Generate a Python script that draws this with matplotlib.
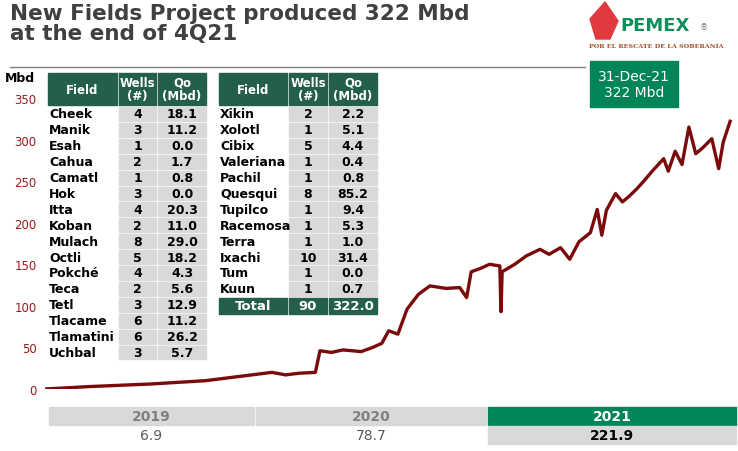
import matplotlib.pyplot as plt
from matplotlib.patches import Rectangle, Polygon

# production series (decimal year, Mbd)
years = [2019.00, 2019.20, 2019.46, 2019.70, 2019.99, 2020.05, 2020.11, 2020.18, 2020.20,
         2020.25, 2020.30, 2020.38, 2020.43, 2020.47, 2020.50, 2020.54, 2020.58, 2020.63,
         2020.68, 2020.75, 2020.81, 2020.84, 2020.86, 2020.90, 2020.94, 2020.985, 2020.99,
         2020.995, 2021.05, 2021.10, 2021.16, 2021.20, 2021.25, 2021.29, 2021.33, 2021.38,
         2021.41, 2021.43, 2021.45, 2021.49, 2021.52, 2021.55, 2021.58, 2021.61, 2021.65,
         2021.70, 2021.72, 2021.75, 2021.78, 2021.81, 2021.84, 2021.87, 2021.91, 2021.94,
         2021.96, 2021.99]
mbd = [0, 3, 6, 10, 20, 17, 19, 20, 46, 44, 47, 45, 50, 55, 70, 66, 96, 114,
       124, 121, 122, 110, 141, 145, 150, 148, 93, 141, 150, 160, 168, 162, 170, 156, 177, 188,
       216, 185, 215, 235, 225, 232, 240, 249, 262, 277, 262, 286, 270, 315, 283, 290, 301, 265,
       297, 322]
yticks = [0, 50, 100, 150, 200, 250, 300, 350]

left_fields = ["Cheek", "Manik", "Esah", "Cahua", "Camatl", "Hok", "Itta", "Koban",
               "Mulach", "Octli", "Pokché", "Teca", "Tetl", "Tlacame", "Tlamatini", "Uchbal"]
left_wells = [4, 3, 1, 2, 1, 3, 4, 2, 8, 5, 4, 2, 3, 6, 6, 3]
left_qo = ["18.1", "11.2", "0.0", "1.7", "0.8", "0.0", "20.3", "11.0", "29.0", "18.2",
           "4.3", "5.6", "12.9", "11.2", "26.2", "5.7"]
right_fields = ["Xikin", "Xolotl", "Cibix", "Valeriana", "Pachil", "Quesqui", "Tupilco",
                "Racemosa", "Terra", "Ixachi", "Tum", "Kuun"]
right_wells = [2, 1, 5, 1, 1, 8, 1, 1, 1, 10, 1, 1]
right_qo = ["2.2", "5.1", "4.4", "0.4", "0.8", "85.2", "9.4", "5.3", "1.0", "31.4", "0.0", "0.7"]
total_wells, total_qo = 90, "322.0"

year_labels = ["2019", "2020", "2021"]
year_avg = ["6.9", "78.7", "221.9"]

GREEN_DK = "#245E4C"
GREEN = "#00845A"
GRAY = "#D9D9D9"
RED = "#7B0A0A"

fig = plt.figure(figsize=(7.38, 4.52), dpi=100)

# line chart
ax = fig.add_axes([45 / 738, 62 / 452, 692 / 738, 291 / 452])
ax.plot(years, mbd, color=RED, lw=2.4, solid_joinstyle="round")
ax.set_xlim(2019, 2022.02)
ax.set_ylim(0, 350)
ax.set_yticks(yticks)
ax.set_xticks([])
for s in ax.spines.values():
    s.set_visible(False)
ax.tick_params(axis="y", length=0, labelsize=8.5, labelcolor="#9B1B1B", pad=6)

# overlay in pixel coords
ov = fig.add_axes([0, 0, 1, 1], zorder=5)
ov.set_xlim(0, 738)
ov.set_ylim(452, 0)
ov.axis("off")
ov.patch.set_alpha(0)

ov.text(10, 4, "New Fields Project produced 322 Mbd\nat the end of 4Q21", fontsize=15.5,
        fontweight="bold", color="#404040", va="top", linespacing=1.0)
ov.plot([10, 585], [68, 68], color="#7F7F7F", lw=1)
ov.text(5, 78, "Mbd", fontsize=9, fontweight="bold", va="center")

# logo
ov.add_patch(Polygon([[590, 20], [605, 3], [618, 22], [610, 40], [596, 40]],
                     closed=True, color="#E03A3E"))
ov.text(620, 26, "PEMEX", fontsize=13, fontweight="bold", color="#0E8E5A", va="center")
ov.text(700, 28, "®", fontsize=6, color="#777777", va="center")
ov.text(656, 46, "POR EL RESCATE DE LA SOBERANÍA", fontsize=4.6, color="#A0522D",
        ha="center", va="center", family="DejaVu Serif", fontweight="bold")
ov.add_patch(Rectangle((590, 62), 88, 46, color=GREEN))
ov.text(634, 85, "31-Dec-21\n322 Mbd", color="white", fontsize=10, ha="center", va="center")


def table(x0, widths, fields, wells, qo, total=None):
    top, hh, rh = 74, 32, 15.9
    heads = ["Field", "Wells\n(#)", "Qo\n(Mbd)"]
    x = x0
    for w, h in zip(widths, heads):
        ov.add_patch(Rectangle((x + 1, top), w - 2, hh, color=GREEN_DK))
        ov.text(x + w / 2, top + hh / 2, h, color="white", fontsize=8.5, fontweight="bold",
                ha="center", va="center", linespacing=1.0)
        x += w
    for i, (f, wl, q) in enumerate(zip(fields, wells, qo)):
        y = top + hh + 1 + i * rh
        ov.text(x0 + 2, y + rh / 2, f, fontsize=9, fontweight="bold", va="center")
        xc = x0 + widths[0]
        for w, v in zip(widths[1:], [str(wl), q]):
            ov.add_patch(Rectangle((xc + 1, y + 1), w - 2, rh - 2, color=GRAY))
            ov.text(xc + w / 2, y + rh / 2, v, fontsize=9, fontweight="bold",
                    ha="center", va="center")
            xc += w
    if total:
        y = top + hh + 1 + len(fields) * rh
        xc = x0
        for w, v in zip(widths, total):
            ov.add_patch(Rectangle((xc + 1, y + 1), w - 2, rh, color=GREEN_DK))
            ov.text(xc + w / 2, y + rh / 2 + 1, v, fontsize=9.5, fontweight="bold",
                    color="white", ha="center", va="center")
            xc += w


table(47, [71, 39, 50], left_fields, left_wells, left_qo)
table(218, [70, 40, 50], right_fields, right_wells, right_qo,
      total=["Total", str(total_wells), total_qo])

# yearly averages
bx = [48, 255, 487, 737]
for i, (lab, val) in enumerate(zip(year_labels, year_avg)):
    x0, x1 = bx[i], bx[i + 1]
    last = i == len(year_labels) - 1
    ov.add_patch(Rectangle((x0 + 1, 408), x1 - x0 - 2, 18, color=GREEN if last else GRAY))
    ov.text((x0 + x1) / 2, 417, lab, fontsize=10, fontweight="bold",
            color="white" if last else "#808080", ha="center", va="center")
    if last:
        ov.add_patch(Rectangle((x0 + 1, 427), x1 - x0 - 2, 18, color=GRAY))
    ov.text((x0 + x1) / 2, 436, val, fontsize=10, fontweight="bold" if last else "normal",
            color="black" if last else "#595959", ha="center", va="center")

fig.savefig("out.png", dpi=100)
